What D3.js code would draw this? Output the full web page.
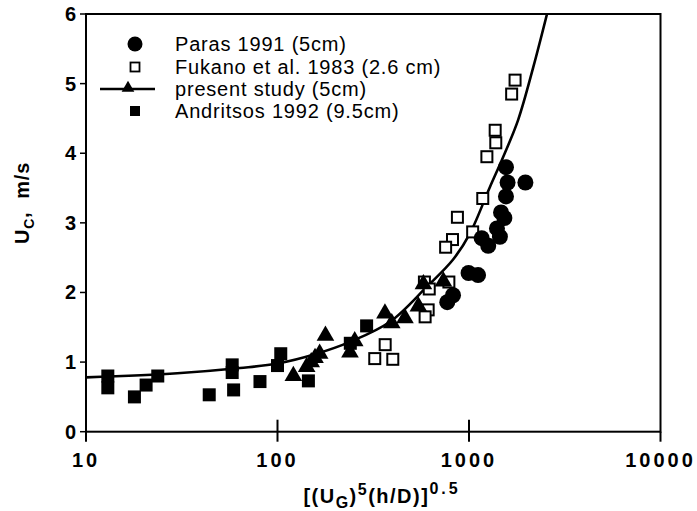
<!DOCTYPE html>
<html>
<head>
<meta charset="utf-8">
<script src="https://cdn.jsdelivr.net/npm/d3@7"></script>
<style>
  body { margin: 0; background: #fff; }
  text { font-family: "Liberation Sans", Arial, sans-serif; fill: #000; }
</style>
</head>
<body>
<script>
// x = [(UG)^5 (h/D)]^0.5, y = UC in m/s

var xTicks = [10, 100, 1000, 10000];
var yTicks = [0, 1, 2, 3, 4, 5, 6];

var paras = [[1560, 3.80], [1590, 3.58], [1970, 3.58], [1560, 3.38], [1470, 3.15], [1530, 3.07],
  [1400, 2.92], [1450, 2.80], [1165, 2.78], [1260, 2.67], [995, 2.28], [1115, 2.25], [825, 1.96], [770, 1.86]];

var fukano = [[1740, 5.05], [1670, 4.85], [1370, 4.33], [1380, 4.15], [1240, 3.95], [1180, 3.35],
  [870, 3.08], [820, 2.76], [755, 2.65], [1045, 2.87], [585, 2.15], [785, 2.15], [620, 2.05],
  [612, 1.75], [590, 1.65], [365, 1.25], [322, 1.05], [400, 1.04]];

var present = [[121, 0.80], [142, 0.93], [150, 1.00], [157, 1.06], [166, 1.12], [178, 1.38],
  [239, 1.14], [253, 1.30], [364, 1.70], [395, 1.56], [463, 1.63], [544, 1.80], [578, 2.12], [735, 2.16]];

var andritsos = [[13, 0.80], [13, 0.63], [17.9, 0.50], [20.6, 0.67], [23.7, 0.80], [44, 0.53],
  [58, 0.96], [58, 0.85], [59, 0.60], [81, 0.72], [100, 0.95], [104, 1.12], [145, 0.73], [240, 1.27], [292, 1.52]];

// fitted curve of the present study
var curve = [[10, 0.78], [30, 0.84], [63.7, 0.915], [100, 0.98], [160, 1.12], [239, 1.29], [387, 1.58],
  [601, 2.08], [824, 2.47], [1012, 2.85], [1288, 3.52], [1510, 3.95], [1806, 4.48], [2168, 5.24], [2555, 6.0]];

var legendItems = ['Paras 1991 (5cm)', 'Fukano et al. 1983 (2.6 cm)', 'present study (5cm)', 'Andritsos 1992 (9.5cm)'];

var chart = { width: 697, height: 511, left: 86, right: 660.5, top: 14, bottom: 431.7 };

var svg = d3.select('body').append('svg').attr('width', chart.width).attr('height', chart.height);

var x = d3.scaleLog().domain([10, 10000]).range([chart.left, chart.right]);
var y = d3.scaleLinear().domain([0, 6]).range([chart.bottom, chart.top]);

// frame
svg.append('rect').attr('x', chart.left).attr('y', chart.top)
  .attr('width', chart.right - chart.left).attr('height', chart.bottom - chart.top)
  .attr('fill', 'none').attr('stroke', '#000').attr('stroke-width', 2);

// y ticks
svg.selectAll('.ytick').data(yTicks).enter().append('line')
  .attr('x1', chart.left - 6).attr('x2', chart.left)
  .attr('y1', function(d) { return y(d); }).attr('y2', function(d) { return y(d); })
  .attr('stroke', '#000').attr('stroke-width', 1.5);
svg.selectAll('.ylab').data(yTicks).enter().append('text')
  .attr('x', chart.left - 10).attr('y', function(d) { return y(d) + 7; })
  .attr('text-anchor', 'end').attr('font-size', 20).attr('font-weight', 'bold')
  .text(function(d) { return d; });

// x ticks
svg.selectAll('.xtick').data(xTicks).enter().append('line')
  .attr('x1', function(d) { return x(d); }).attr('x2', function(d) { return x(d); })
  .attr('y1', function(d) { return (d == 100 || d == 1000) ? chart.bottom - 12 : chart.bottom; })
  .attr('y2', chart.bottom + 10)
  .attr('stroke', '#000').attr('stroke-width', 2);
svg.selectAll('.xlab').data(xTicks).enter().append('text')
  .attr('x', function(d) { return x(d); }).attr('y', 467)
  .attr('text-anchor', 'middle').attr('font-size', 20).attr('font-weight', 'bold')
  .attr('letter-spacing', 3)
  .text(function(d) { return d; });

// axis titles
var xt = svg.append('text').attr('x', 382).attr('y', 503).attr('text-anchor', 'middle')
  .attr('font-size', 20).attr('font-weight', 'bold').attr('letter-spacing', 1.5);
xt.append('tspan').text('[(U');
xt.append('tspan').attr('dy', 5).attr('font-size', 16).text('G');
xt.append('tspan').attr('dy', -5).text(')');
xt.append('tspan').attr('dy', -8).attr('font-size', 16).text('5');
xt.append('tspan').attr('dy', 8).text('(h/D)]');
xt.append('tspan').attr('dy', -9).attr('font-size', 16).attr('letter-spacing', 3).text('0.5');

var yt = svg.append('text').attr('transform', 'translate(29,203) rotate(-90)').attr('text-anchor', 'middle')
  .attr('font-size', 20).attr('font-weight', 'bold').attr('letter-spacing', 0.8);
yt.append('tspan').text('U');
yt.append('tspan').attr('dy', 5).attr('font-size', 14).text('C');
yt.append('tspan').attr('dy', -5).text(',\u00a0\u00a0m/s');

// curve
var line = d3.line().curve(d3.curveCatmullRom.alpha(0.5))
  .x(function(d) { return x(d[0]); }).y(function(d) { return y(d[1]); });
svg.append('defs').append('clipPath').attr('id', 'plotClip').append('rect')
  .attr('x', chart.left).attr('y', chart.top).attr('width', chart.right - chart.left).attr('height', chart.bottom - chart.top);
svg.append('path').datum(curve).attr('d', line).attr('fill', 'none')
  .attr('stroke', '#000').attr('stroke-width', 2.6).attr('clip-path', 'url(#plotClip)');

var tri = d3.symbol().type(d3.symbolTriangle).size(135);

// markers
svg.selectAll('.fuk').data(fukano).enter().append('rect')
  .attr('x', function(d) { return x(d[0]) - 5.5; }).attr('y', function(d) { return y(d[1]) - 5.5; })
  .attr('width', 11).attr('height', 11).attr('fill', '#fff').attr('stroke', '#000').attr('stroke-width', 2);
svg.selectAll('.and').data(andritsos).enter().append('rect')
  .attr('x', function(d) { return x(d[0]) - 6.5; }).attr('y', function(d) { return y(d[1]) - 6.5; })
  .attr('width', 13).attr('height', 13).attr('fill', '#000');
svg.selectAll('.pre').data(present).enter().append('path')
  .attr('d', tri).attr('transform', function(d) { return 'translate(' + x(d[0]) + ',' + y(d[1]) + ')'; })
  .attr('fill', '#000');
svg.selectAll('.par').data(paras).enter().append('circle')
  .attr('cx', function(d) { return x(d[0]); }).attr('cy', function(d) { return y(d[1]); })
  .attr('r', 8).attr('fill', '#000');

// legend
var legY = [44, 67, 89, 111];
var leg = svg.append('g');
leg.append('circle').attr('cx', 135).attr('cy', legY[0]).attr('r', 7.5).attr('fill', '#000');
leg.append('rect').attr('x', 130.5).attr('y', legY[1] - 4.5).attr('width', 9).attr('height', 9)
  .attr('fill', '#fff').attr('stroke', '#000').attr('stroke-width', 1.8);
leg.append('line').attr('x1', 100).attr('x2', 155).attr('y1', legY[2]).attr('y2', legY[2])
  .attr('stroke', '#000').attr('stroke-width', 2.4);
leg.append('path').attr('d', d3.symbol().type(d3.symbolTriangle).size(70))
  .attr('transform', 'translate(128,' + (legY[2] - 1) + ')').attr('fill', '#000');
leg.append('rect').attr('x', 130).attr('y', legY[3] - 5).attr('width', 10).attr('height', 10).attr('fill', '#000');
leg.selectAll('.legtxt').data(legendItems).enter().append('text')
  .attr('x', 175).attr('y', function(d, i) { return legY[i] + 7; })
  .attr('font-size', 20).attr('letter-spacing', 0.8)
  .text(function(d) { return d; });
</script>
</body>
</html>
